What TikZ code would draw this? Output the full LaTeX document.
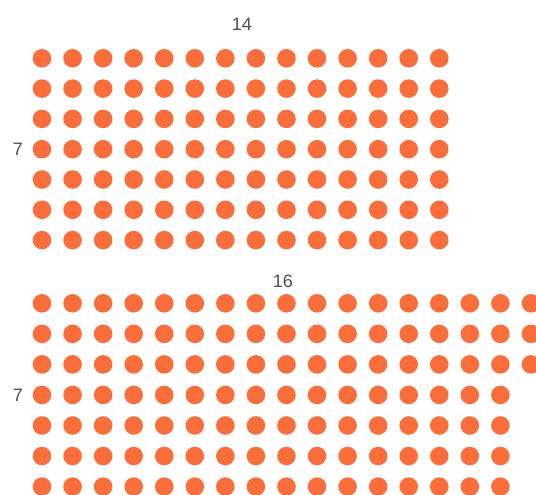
\documentclass[tikz,border=0pt]{standalone}
\usepackage{fontspec}
\setmainfont{Liberation Sans}
\definecolor{dotc}{RGB}{250,110,60}
\definecolor{labc}{RGB}{80,80,80}
\tikzset{
  dotnode/.style={circle,fill=dotc,draw=none,minimum size=18.6pt,inner sep=0pt},
  lab/.style={text=labc,font=\fontsize{18}{18}\selectfont,inner sep=0pt}
}
\begin{document}
\begin{tikzpicture}[x=1pt,y=-1pt]
\path[use as bounding box] (0,0) rectangle (536,495);
\clip (0,0) rectangle (536,495);
\fill[white] (0,0) rectangle (536,495);
% top grid 14 x 7
\foreach \r in {0,...,6}{
  \foreach \c in {0,...,13}{
    \node[dotnode] (t-\r-\c) at ({42+30.56*\c},{58.3+30.3*\r}) {};
  }
}
% bottom grid
\foreach \r in {0,1,2}{
  \foreach \c in {0,...,16}{
    \node[dotnode] (b-\r-\c) at ({42+30.56*\c},{303.3+30.55*\r}) {};
  }
}
\foreach \r in {3,...,6}{
  \foreach \c in {0,...,15}{
    \node[dotnode] (b-\r-\c) at ({42+30.56*\c},{303.3+30.55*\r}) {};
  }
}
\node[lab] (l14) at (242,24) {14};
\node[lab] (l7a) at (18,149) {7};
\node[lab] (l16) at (283,281) {16};
\node[lab] (l7b) at (18,395) {7};
\end{tikzpicture}
\end{document}
